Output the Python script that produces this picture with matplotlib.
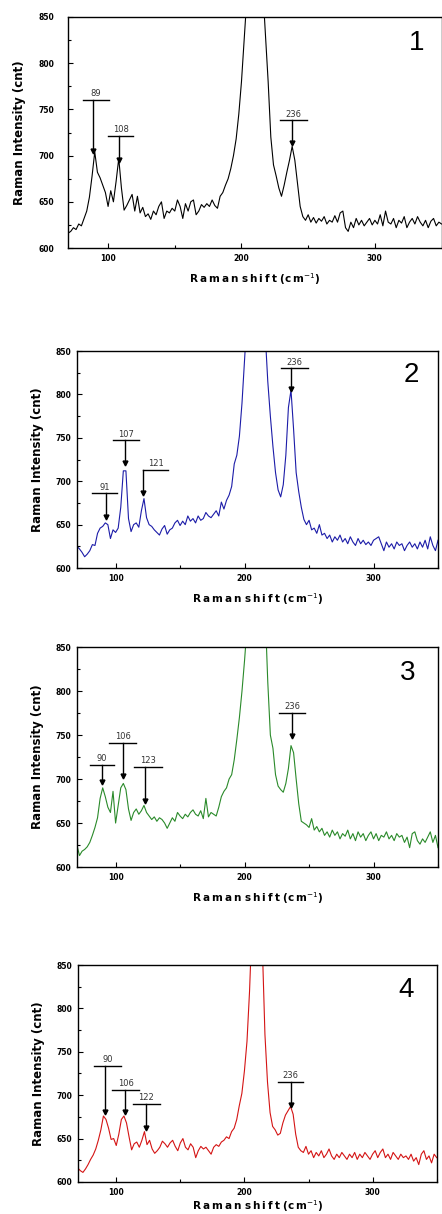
import matplotlib
matplotlib.use("Agg")
import matplotlib.pyplot as plt
import numpy as np
from matplotlib.ticker import MultipleLocator

# Raman shift grid (cm-1), one reading every 2 cm-1
shift = np.arange(70, 351, 2)

# intensities
spec1 = [616, 618, 622, 620, 626, 624, 632, 640, 655, 678, 704, 682, 676, 668, 660, 645, 662, 650, 672, 697,
         665, 641, 646, 652, 658, 640, 656, 638, 644, 634, 637, 631, 640, 636, 645, 650, 632, 640, 638, 643,
         640, 652, 645, 632, 648, 640, 650, 652, 636, 640, 647, 644, 648, 645, 652, 646, 643, 656, 660, 668,
         675, 686, 700, 718, 745, 780, 825, 870, 920, 960, 980, 970, 930, 880, 830, 780, 720, 690, 678, 665,
         656, 668, 682, 695, 710, 695, 670, 645, 634, 630, 636, 628, 633, 627, 632, 629, 634, 626, 630, 628,
         635, 628, 638, 640, 622, 618, 628, 622, 632, 625, 630, 624, 628, 632, 625, 630, 626, 636, 624, 640,
         628, 626, 632, 622, 630, 627, 634, 622, 628, 632, 626, 634, 628, 624, 630, 622, 629, 632, 624, 628,
         626]
spec2 = [625, 622, 618, 613, 616, 620, 627, 626, 640, 646, 648, 652, 650, 634, 644, 641, 646, 670, 712, 712,
         657, 642, 650, 652, 647, 666, 680, 658, 650, 648, 644, 641, 638, 645, 649, 639, 644, 646, 652, 655,
         649, 654, 650, 660, 654, 657, 652, 660, 655, 657, 664, 660, 658, 662, 666, 660, 676, 668, 678, 684,
         694, 720, 730, 752, 790, 840, 890, 940, 980, 1000, 990, 960, 920, 870, 815, 775, 740, 710, 690, 682,
         696, 730, 785, 805, 760, 710, 688, 670, 656, 650, 655, 644, 646, 640, 650, 638, 640, 634, 638, 630,
         636, 632, 638, 630, 634, 628, 636, 630, 626, 634, 628, 632, 627, 630, 626, 632, 634, 636, 628, 620,
         630, 624, 628, 622, 630, 626, 628, 620, 626, 630, 624, 628, 622, 630, 624, 632, 622, 636, 626, 620,
         632]
spec3 = [625, 613, 618, 620, 623, 628, 636, 645, 656, 678, 690, 680, 668, 662, 686, 650, 670, 690, 695, 688,
         666, 653, 662, 666, 660, 664, 670, 662, 658, 654, 657, 652, 656, 654, 650, 644, 650, 656, 652, 662,
         658, 655, 660, 657, 662, 665, 660, 658, 664, 655, 678, 657, 662, 660, 658, 668, 680, 686, 690, 700,
         705, 722, 745, 770, 800, 835, 875, 920, 960, 990, 1000, 985, 950, 890, 810, 750, 735, 705, 692, 688,
         685, 695, 712, 738, 730, 700, 672, 652, 650, 648, 645, 655, 642, 646, 640, 644, 636, 640, 634, 642,
         636, 640, 632, 638, 635, 642, 632, 638, 630, 640, 634, 638, 630, 636, 640, 632, 638, 630, 636, 634,
         640, 632, 636, 630, 638, 634, 636, 628, 634, 622, 638, 640, 630, 626, 632, 628, 634, 640, 628, 636,
         622]
spec4 = [616, 613, 611, 615, 620, 626, 631, 638, 648, 660, 676, 672, 662, 649, 650, 642, 655, 672, 676, 668,
         652, 637, 644, 646, 640, 648, 658, 643, 648, 638, 633, 636, 640, 647, 644, 640, 645, 648, 641, 636,
         645, 650, 640, 637, 644, 640, 628, 636, 641, 638, 640, 636, 632, 640, 643, 641, 646, 648, 652, 650,
         658, 662, 672, 688, 702, 728, 762, 820, 900, 960, 990, 950, 870, 770, 715, 680, 664, 660, 654, 656,
         668, 677, 682, 687, 678, 655, 640, 636, 634, 641, 632, 636, 628, 634, 630, 636, 628, 632, 638, 630,
         626, 632, 628, 634, 630, 626, 632, 628, 634, 626, 632, 628, 634, 630, 626, 632, 636, 628, 634, 638,
         628, 632, 626, 634, 630, 626, 632, 628, 630, 626, 632, 624, 628, 620, 632, 636, 626, 630, 622, 632,
         628]

spectra = [spec1, spec2, spec3, spec4]
colors = ["black", "#1c1ca8", "#2a8a2a", "#d41414"]
panel_names = ["1", "2", "3", "4"]

# peak marks: label, x of the arrow, y of the arrow tip, y of the bar, bar start, bar end
peaks = [
    [("89", 89, 705, 760, 81, 101), ("108", 108, 695, 721, 100, 119), ("236", 238, 714, 738, 229, 249)],
    [("91", 92.5, 659, 686, 82, 101), ("107", 107, 721, 747, 98, 118), ("121", 121.5, 686, 713, 121, 141),
     ("236", 236, 806, 830, 228, 249)],
    [("90", 89.5, 697, 716, 80, 99), ("106", 105.5, 703, 741, 95, 116), ("123", 122.5, 675, 714, 114, 136),
     ("236", 237, 749, 775, 227, 247)],
    [("90", 91, 681, 734, 83, 104), ("106", 106.5, 681, 706, 97, 118), ("122", 123, 662, 690, 113, 134),
     ("236", 236, 689, 715, 226, 246)],
]

# axes boxes in figure fraction [left, bottom, width, height]
boxes = [
    [0.154, 0.7957, 0.845, 0.1903],
    [0.174, 0.5321, 0.817, 0.1787],
    [0.174, 0.2858, 0.817, 0.1812],
    [0.176, 0.0264, 0.812, 0.1787],
]
num_pos = [(0.933, 0.887), (0.925, 0.889), (0.917, 0.88), (0.914, 0.885)]
ytick_pad = [10, 4, 4, 4]
ylab_pad = [9, 8, 8, 8]
xlab_pad = [6, 6, 6, 1.5]

thin = "\u2009"
xlab = thin.join("Raman") + " " + thin.join("shift") + " (" + thin.join("cm") + r"$^{-1}$)"

plt.rcParams['font.family'] = ['DejaVu Sans']
fig = plt.figure(figsize=(4.42, 12.14), dpi=100)

for i in range(4):
    ax = fig.add_axes(boxes[i])
    ax.plot(shift, spectra[i], color=colors[i], lw=0.8)
    ax.set_xlim(70, 350)
    ax.set_ylim(600, 850)
    ax.xaxis.set_major_locator(MultipleLocator(100))
    ax.xaxis.set_minor_locator(MultipleLocator(50))
    ax.yaxis.set_major_locator(MultipleLocator(50))
    ax.yaxis.set_minor_locator(MultipleLocator(25))
    ax.tick_params(which='both', direction='in', labelsize=5.5, width=0.8)
    ax.tick_params(which='major', length=3.5, pad=4)
    ax.tick_params(axis='y', which='major', pad=ytick_pad[i])
    ax.tick_params(which='minor', length=2)
    for lab in ax.get_xticklabels() + ax.get_yticklabels():
        lab.set_fontweight('bold')
    for sp in ax.spines.values():
        sp.set_linewidth(1.0)
    ax.set_xlabel(xlab, fontsize=7.5, fontweight='bold', labelpad=xlab_pad[i])
    ax.set_ylabel("Raman Intensity (cnt)", fontsize=8.5, fontweight='bold', labelpad=ylab_pad[i])

    for lab, xp, ytip, ybar, x0, x1 in peaks[i]:
        ax.plot([x0, x1], [ybar, ybar], color='black', lw=1.0)
        ax.plot([xp, xp], [ybar, ytip], color='black', lw=1.0)
        ax.plot([xp], [ytip], marker='v', color='black', ms=3.5)
        ax.text((x0 + x1) / 2, ybar + 2, lab, ha='center', va='bottom', fontsize=6, color='#333333')

    ax.text(num_pos[i][0], num_pos[i][1], panel_names[i], transform=ax.transAxes,
            ha='center', va='center', fontsize=20, family=['Liberation Sans', 'DejaVu Sans'])

fig.savefig("out.png", dpi=100)
